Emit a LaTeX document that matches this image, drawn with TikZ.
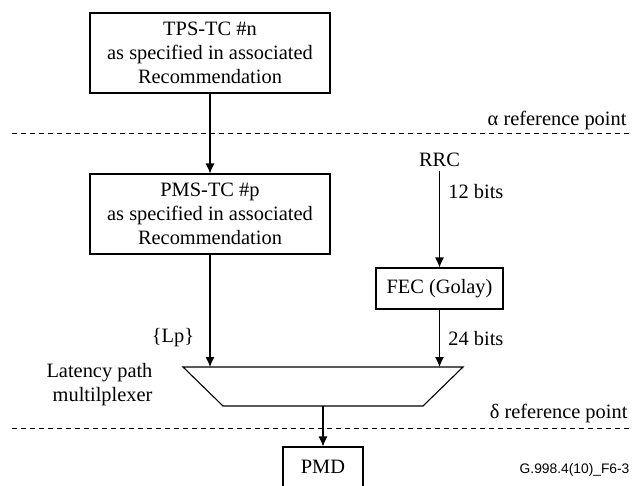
\documentclass[tikz,border=0pt]{standalone}
\usepackage{fontspec}
\setmainfont{Liberation Serif}
\setsansfont{Liberation Sans}
\usetikzlibrary{arrows.meta}
\tikzset{%
  >={Latex[width=9pt,length=10pt]},
  % Specifications for style of nodes:
            base/.style = {rectangle, draw=black, line width=1.1pt,
                           text centered, inner sep=0pt},
           tcbox/.style = {base, minimum width=240pt, minimum height=80pt,
                           align=center},
         refline/.style = {line width=1pt, dash pattern=on 5pt off 4pt},
}

\begin{document}
\begin{tikzpicture}[x=1pt, y=-1pt, line width=1.1pt,
    every node/.style={font=\fontsize{20.4}{24}\selectfont}]
  \useasboundingbox (0,0) rectangle (635,485);
  % Specification of nodes (position, etc.)

  \node (tpstc)     [tcbox] at (210,53) {TPS-TC \#n\\as specified in associated\\Recommendation};
  \node (pmstc)     [tcbox] at (210,214) {PMS-TC \#p\\as specified in associated\\Recommendation};
  \node (rrc)               at (439.5,160) {RRC};
  \node (fec)       [base, minimum width=127pt, minimum height=41pt] at (439.5,288.5) {FEC (Golay)};
  \node (muxlabel)  [anchor=east, align=right] at (156.3,385) {Latency path\\multilplexer};
  \node (pmd)       [base, minimum width=80pt, minimum height=40pt] at (323,467) {PMD};

  \node (alpharef)  [anchor=east] at (630.3,120) {α reference point};
  \node (deltaref)  [anchor=east] at (631.3,413) {δ reference point};
  \node (figid)     [anchor=east, font=\sffamily\fontsize{13.8}{16}\selectfont] at (633.3,470) {G.998.4(10)\_F6-3};

  % latency path multiplexer
  \coordinate (muxTL) at (183,367);
  \coordinate (muxTR) at (463,367);
  \coordinate (muxBR) at (423,406);
  \coordinate (muxBL) at (223,406);
  \draw             (muxTL) -- (muxTR) -- (muxBR) -- (muxBL) -- cycle;
  \coordinate (muxinL) at (pmstc.south |- muxTL);
  \coordinate (muxinR) at (fec.south |- muxTL);
  \coordinate (muxout) at (pmd.north |- muxBL);

  % reference points
  \coordinate (alphaL) at (12,133);
  \coordinate (alphaR) at (630,133);
  \coordinate (deltaL) at (12,428);
  \coordinate (deltaR) at (630,428);
  \draw[refline]    (alphaL) -- (alphaR);
  \draw[refline]    (deltaL) -- (deltaR);

  \draw[->]         (tpstc) -- (pmstc);
  \draw[->]         (rrc) -- (fec) node[pos=0.22, right, xshift=5pt] {12 bits};
  \draw[->]         (pmstc) -- (muxinL) node[pos=0.74, left, xshift=-12pt] {\{Lp\}};
  \draw[->]         (fec) -- (muxinR) node[midway, right, xshift=5pt] {24 bits};
  \draw[->]         (muxout) -- (pmd);

\end{tikzpicture}
\end{document}
